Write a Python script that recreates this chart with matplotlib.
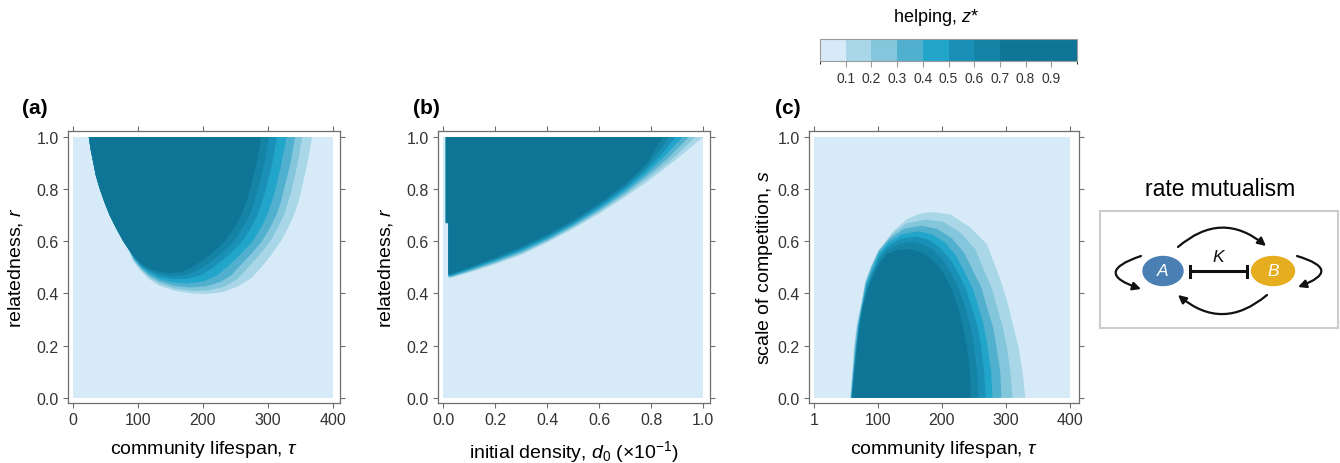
import matplotlib
matplotlib.use('Agg')
import matplotlib as mpl
import matplotlib.pyplot as plt
from matplotlib.patches import Ellipse, FancyArrowPatch, Rectangle
from matplotlib.colors import ListedColormap, BoundaryNorm
from matplotlib.ticker import FormatStrFormatter

plt.rcParams['font.family'] = ['Liberation Sans', 'DejaVu Sans']
plt.rcParams['mathtext.fontset'] = 'custom'
plt.rcParams['mathtext.rm'] = 'Liberation Sans'
plt.rcParams['mathtext.it'] = 'Liberation Sans:italic'
plt.rcParams['mathtext.bf'] = 'Liberation Sans:bold'

# band colours: 0-0.1, 0.1-0.2, ..., 0.6-0.7, >=0.7
band_colors = ['#d6eaf7', '#a9d7e7', '#84c6db', '#52b0cf',
               '#21a5ca', '#1a90b7', '#1583a5', '#0f7596']
cb_bounds = [0.0, 0.1, 0.2, 0.3, 0.4, 0.5, 0.6, 0.7, 0.8, 0.9, 1.0]
cb_ticks = [0.1, 0.2, 0.3, 0.4, 0.5, 0.6, 0.7, 0.8, 0.9]

# ---- panel (a): z* contours over (tau, r) ----
a_left = [(25, 1.0), (28, 0.95), (32, 0.9), (36, 0.85), (42, 0.8), (49, 0.75),
          (57, 0.7), (67, 0.65), (78, 0.6), (86, 0.57)]
a_right_r = [0.5, 0.55, 0.6, 0.65, 0.7, 0.75, 0.8, 0.9, 1.0]

a_low_01 = [(93, 0.524), (104, 0.488), (117, 0.456), (133, 0.43), (158, 0.41), (185, 0.4),
            (205, 0.398), (230, 0.405), (255, 0.428), (275, 0.46), (290, 0.5)]
a_low_02 = [(94, 0.527), (105, 0.492), (117, 0.463), (133, 0.438), (157, 0.419), (183, 0.41),
            (208, 0.411), (232, 0.425), (252, 0.452), (270, 0.5)]
a_low_03 = [(94, 0.53), (105, 0.497), (117, 0.47), (133, 0.447), (155, 0.43), (180, 0.423),
            (205, 0.427), (228, 0.445), (244, 0.47), (255, 0.5)]
a_low_04 = [(95, 0.533), (105, 0.502), (117, 0.477), (133, 0.456), (153, 0.443), (177, 0.438),
            (202, 0.447), (222, 0.469), (237, 0.5)]
a_low_05 = [(95, 0.536), (105, 0.507), (117, 0.484), (133, 0.466), (152, 0.456), (175, 0.455),
            (198, 0.471), (217, 0.5)]
a_low_06 = [(95, 0.538), (105, 0.511), (117, 0.49), (133, 0.475), (150, 0.467), (170, 0.469),
            (187, 0.482), (201, 0.5)]
a_low_07 = [(95, 0.54), (105, 0.515), (117, 0.497), (133, 0.484), (150, 0.478), (167, 0.482),
            (184, 0.5)]

a_right_01 = [290, 306, 320, 331, 340, 347, 352, 361, 368]
a_right_02 = [270, 288, 304, 315, 325, 331, 337, 346, 353]
a_right_03 = [255, 274, 291, 303, 313, 320, 325, 335, 342]
a_right_04 = [237, 258, 277, 289, 299, 306, 312, 321, 329]
a_right_05 = [217, 241, 261, 274, 284, 291, 297, 307, 314]
a_right_06 = [201, 227, 248, 261, 272, 279, 285, 295, 302]
a_right_07 = [184, 213, 234, 248, 259, 267, 273, 283, 290]

# ---- panel (b): z* contours over (d0, r) ----
b_corner = [(0.01, 1.0), (0.01, 0.67), (0.02, 0.67)]
b_d = [0.03, 0.1, 0.2, 0.3, 0.4, 0.5, 0.6, 0.7, 0.78]
b_r_01 = [0.460, 0.480, 0.512, 0.548, 0.595, 0.648, 0.706, 0.770, 0.825]
b_r_02 = [0.462, 0.483, 0.516, 0.553, 0.600, 0.653, 0.712, 0.778, 0.837]
b_r_03 = [0.465, 0.487, 0.520, 0.558, 0.605, 0.659, 0.719, 0.786, 0.848]
b_r_04 = [0.467, 0.490, 0.525, 0.563, 0.610, 0.664, 0.725, 0.795, 0.860]
b_r_05 = [0.470, 0.493, 0.529, 0.568, 0.615, 0.669, 0.732, 0.803, 0.872]
b_r_06 = [0.472, 0.497, 0.533, 0.573, 0.620, 0.675, 0.738, 0.811, 0.883]
b_r_07 = [0.475, 0.500, 0.537, 0.578, 0.625, 0.680, 0.745, 0.820, 0.895]
b_top_01 = [(0.885, 0.905), (1.0, 1.0)]
b_top_02 = [(0.875, 0.91), (0.97, 1.0)]
b_top_03 = [(0.865, 0.92), (0.945, 1.0)]
b_top_04 = [(0.855, 0.93), (0.92, 1.0)]
b_top_05 = [(0.845, 0.94), (0.895, 1.0)]
b_top_06 = [(0.83, 0.945), (0.87, 1.0)]
b_top_07 = [(0.815, 0.95), (0.846, 1.0)]

# ---- panel (c): z* contours over (tau, s) ----
c_01 = [(57, 0), (60, 0.1), (63, 0.2), (67, 0.28), (73, 0.35), (78, 0.4), (84, 0.44), (94, 0.5),
        (104, 0.564), (125, 0.641), (146, 0.686), (166, 0.706), (185, 0.712), (213, 0.703),
        (244, 0.654), (270, 0.59), (288, 0.475), (297, 0.41), (304, 0.35), (312, 0.27),
        (319, 0.2), (326, 0.1), (330, 0)]
c_02 = [(57.5, 0), (61, 0.1), (64, 0.2), (68, 0.28), (74, 0.35), (80, 0.44), (89, 0.5),
        (101, 0.565), (121, 0.625), (144, 0.668), (174, 0.683), (202, 0.675), (228, 0.635),
        (252, 0.57), (268, 0.475), (278, 0.42), (286, 0.35), (295, 0.27), (301, 0.2),
        (307, 0.1), (310, 0)]
c_03 = [(58, 0), (61.5, 0.1), (65, 0.2), (69, 0.28), (74.5, 0.35), (81, 0.44), (90, 0.5),
        (101, 0.56), (118, 0.61), (141, 0.648), (168, 0.66), (192, 0.648), (215, 0.613),
        (235, 0.555), (251, 0.475), (262, 0.42), (270, 0.35), (280, 0.27), (285, 0.2),
        (291, 0.1), (293, 0)]
c_04 = [(58.5, 0), (62, 0.1), (66, 0.2), (70, 0.28), (75, 0.35), (82, 0.435), (91, 0.49),
        (101, 0.55), (116, 0.595), (138, 0.628), (163, 0.638), (185, 0.626), (205, 0.595),
        (222, 0.545), (237, 0.475), (248, 0.42), (257, 0.35), (266, 0.27), (271, 0.2),
        (277, 0.1), (279, 0)]
c_05 = [(59, 0), (62.5, 0.1), (66.5, 0.2), (70.5, 0.28), (75.5, 0.35), (83, 0.43), (92, 0.485),
        (102, 0.54), (115, 0.58), (135, 0.61), (158, 0.618), (178, 0.607), (195, 0.58),
        (212, 0.535), (226, 0.475), (237, 0.42), (246, 0.35), (256, 0.27), (261, 0.2),
        (266, 0.1), (268, 0)]
c_06 = [(59.5, 0), (63, 0.1), (67, 0.2), (71, 0.28), (76, 0.35), (84, 0.425), (93, 0.48),
        (103, 0.53), (115, 0.566), (133, 0.59), (152, 0.598), (170, 0.59), (186, 0.568),
        (201, 0.53), (215, 0.475), (226, 0.42), (236, 0.35), (245, 0.27), (250, 0.2),
        (255, 0.1), (257, 0)]
c_07 = [(60, 0), (64, 0.1), (68, 0.2), (72, 0.28), (77, 0.35), (85, 0.42), (94, 0.475),
        (104, 0.52), (114, 0.55), (130, 0.566), (146, 0.571), (162, 0.563), (177, 0.545),
        (191, 0.515), (203, 0.475), (215, 0.42), (225, 0.35), (233, 0.27), (239, 0.2),
        (244, 0.1), (245, 0)]

W, H = 1340, 464
fig = plt.figure(figsize=(W / 100, H / 100), dpi=100)
EDGE = '#6e6e6e'


def style(ax):
    for sp in ax.spines.values():
        sp.set_color(EDGE)
        sp.set_linewidth(0.9)
    ax.tick_params(direction='out', length=3.5, width=0.8, color=EDGE, top=True, right=True,
                   labelsize=11.5, labelcolor='#333333', pad=3)
    ax.yaxis.set_major_formatter(FormatStrFormatter('%.1f'))
    ax.set_yticks([0.0, 0.2, 0.4, 0.6, 0.8, 1.0])
    ax.set_ylim(-0.02, 1.023)


def draw_bands(ax, polys, x0, x1):
    ax.add_patch(Rectangle((x0, 0), x1 - x0, 1, color=band_colors[0], lw=0))
    for poly, col in zip(polys, band_colors[1:]):
        xs, ys = zip(*poly)
        ax.fill(xs, ys, color=col, lw=0)


# (a)
ax_a = fig.add_axes([68 / W, 1 - 404 / H, 272 / W, 272 / H])
a_lows = [a_low_01, a_low_02, a_low_03, a_low_04, a_low_05, a_low_06, a_low_07]
a_rights = [a_right_01, a_right_02, a_right_03, a_right_04, a_right_05, a_right_06, a_right_07]
a_polys = [a_left + lo + list(zip(rt, a_right_r)) for lo, rt in zip(a_lows, a_rights)]
draw_bands(ax_a, a_polys, 0, 400)
ax_a.set_xlim(-7, 411)
ax_a.set_xticks([0, 100, 200, 300, 400])
style(ax_a)
ax_a.set_xlabel(r'community lifespan, $\tau$', fontsize=14, labelpad=8)
ax_a.set_ylabel(r'relatedness, $r$', fontsize=14, labelpad=8)

# (b)
ax_b = fig.add_axes([438 / W, 1 - 404 / H, 272 / W, 272 / H])
b_rs = [b_r_01, b_r_02, b_r_03, b_r_04, b_r_05, b_r_06, b_r_07]
b_tops = [b_top_01, b_top_02, b_top_03, b_top_04, b_top_05, b_top_06, b_top_07]
b_polys = [b_corner + [(0.02, rr[0])] + list(zip(b_d, rr)) + tp for rr, tp in zip(b_rs, b_tops)]
draw_bands(ax_b, b_polys, 0, 1)
ax_b.set_xlim(-0.02, 1.026)
ax_b.set_xticks([0.0, 0.2, 0.4, 0.6, 0.8, 1.0])
ax_b.xaxis.set_major_formatter(FormatStrFormatter('%.1f'))
style(ax_b)
ax_b.set_xlabel(r'initial density, $d_{\mathrm{0}}$ (×10$^{-1}$)', fontsize=14, labelpad=8)
ax_b.set_ylabel(r'relatedness, $r$', fontsize=14, labelpad=8)

# (c)
ax_c = fig.add_axes([809 / W, 1 - 404 / H, 270 / W, 272 / H])
draw_bands(ax_c, [c_01, c_02, c_03, c_04, c_05, c_06, c_07], 1, 400)
ax_c.set_xlim(-7.4, 414)
ax_c.set_xticks([1, 100, 200, 300, 400])
style(ax_c)
ax_c.set_xlabel(r'community lifespan, $\tau$', fontsize=14, labelpad=8)
ax_c.set_ylabel(r'scale of competition, $s$', fontsize=14, labelpad=2)

for x, lab in [(22, '(a)'), (413, '(b)'), (775, '(c)')]:
    fig.text(x / W, 1 - 109 / H, lab, fontsize=15, fontweight='bold', ha='left', va='center')

# colourbar
cax = fig.add_axes([820 / W, 1 - 62 / H, 257 / W, 22 / H])
cmap = ListedColormap(band_colors + [band_colors[-1], band_colors[-1]])
norm = BoundaryNorm(cb_bounds, cmap.N)
cb = fig.colorbar(mpl.cm.ScalarMappable(norm=norm, cmap=cmap), cax=cax,
                  orientation='horizontal', ticks=cb_ticks)
cb.outline.set_edgecolor('#9a9a9a')
cb.outline.set_linewidth(0.8)
cax.tick_params(length=4, width=0.8, color='#9a9a9a', labelsize=10, labelcolor='#333333', pad=3)
cax.set_xticklabels(['%.1f' % t for t in cb_ticks])
fig.text(936 / W, 1 - 18 / H, r'helping, $z$*', fontsize=13, ha='center', va='center')

# schematic
fig.text(1220 / W, 1 - 190 / H, 'rate mutualism', fontsize=16.5, ha='center', va='center')
ax_d = fig.add_axes([1100 / W, 1 - 329 / H, 238 / W, 117 / H])
ax_d.set_xlim(1100, 1338)
ax_d.set_ylim(329, 212)
ax_d.set_xticks([])
ax_d.set_yticks([])
for sp in ax_d.spines.values():
    sp.set_color('#cccccc')
    sp.set_linewidth(1.5)
ax_d.add_patch(Ellipse((1163, 272), 40, 29, color='#4a7fb4'))
ax_d.add_patch(Ellipse((1273, 272), 43, 29, color='#e6ae1e'))
ax_d.text(1163, 272, 'A', color='white', fontsize=12.5, style='italic', ha='center', va='center')
ax_d.text(1273, 272, 'B', color='white', fontsize=12.5, style='italic', ha='center', va='center')
ax_d.text(1218, 258, 'K', color='#111111', fontsize=12.5, style='italic', ha='center', va='center')
ax_d.plot([1190, 1247], [272, 272], color='#111111', lw=2.2, solid_capstyle='butt')
ax_d.plot([1190, 1190], [266.5, 277.5], color='#111111', lw=2.2)
ax_d.plot([1247, 1247], [266.5, 277.5], color='#111111', lw=2.2)
arrows = [((1178, 248), (1266, 247), -0.42),
          ((1267, 296), (1178, 296), -0.42),
          ((1141, 257), (1141, 290), 1.5),
          ((1297, 257), (1298, 288), -1.5)]
for pa, pb, rad in arrows:
    ax_d.add_patch(FancyArrowPatch(pa, pb, connectionstyle='arc3,rad=%s' % rad,
                                   arrowstyle='-|>', mutation_scale=12, lw=1.6,
                                   color='#111111', shrinkA=0, shrinkB=0))

fig.savefig('out.png', dpi=100)
